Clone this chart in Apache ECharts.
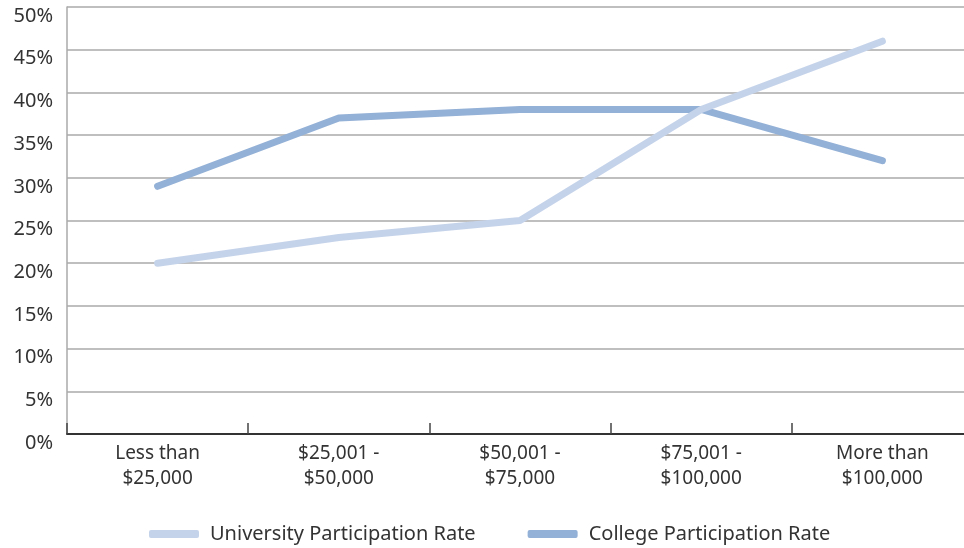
<!DOCTYPE html>
<html>
<head>
<meta charset="utf-8">
<script src="https://cdn.jsdelivr.net/npm/echarts@6/dist/echarts.min.js"></script>
<style>
  html, body { margin: 0; padding: 0; background: #fff; overflow: hidden; }
  /* plot area runs slightly past the right edge of the page */
  #chart { width: 974px; height: 548px; }
</style>
</head>
<body>
<div id="chart"></div>
<script>
// Participation rate by family income bracket
const categories = ['Less than\n$25,000', '$25,001 -\n$50,000', '$50,001 -\n$75,000', '$75,001 -\n$100,000', 'More than\n$100,000'];
const universityRate = [20, 23, 25, 38, 46];
const collegeRate = [29, 37, 38, 38, 32];
const yTicks = [0, 5, 10, 15, 20, 25, 30, 35, 40, 45, 50];

const FONT = '"Noto Sans", sans-serif';
const chart = echarts.init(document.getElementById('chart'));

chart.setOption({
  animation: false,
  backgroundColor: '#fff',
  grid: { left: 67, top: 7, right: 1, bottom: 114, containLabel: false },
  legend: {
    top: 519,
    left: 144,
    itemWidth: 50,
    itemHeight: 8,
    itemGap: 52,
    icon: 'roundRect',
    textStyle: { fontFamily: FONT, fontSize: 20, color: '#333', padding: [0, 0, 0, 6] },
    data: ['University Participation Rate', 'College Participation Rate']
  },
  xAxis: {
    type: 'category',
    data: categories,
    boundaryGap: true,
    axisLine: { lineStyle: { color: '#333', width: 2 } },
    axisTick: { show: true, inside: true, length: 11, lineStyle: { color: '#444', width: 1.5 } },
    axisLabel: { fontFamily: FONT, fontSize: 19, color: '#333', lineHeight: 25, margin: 7 },
    splitLine: { show: false }
  },
  yAxis: {
    type: 'value',
    min: yTicks[0],
    max: yTicks[yTicks.length - 1],
    interval: 5,
    axisLine: { show: true, lineStyle: { color: '#aaa', width: 1.5 } },
    axisTick: { show: false },
    axisLabel: {
      fontFamily: FONT, fontSize: 20, color: '#333', margin: 14,
      verticalAlign: 'top', lineHeight: 18,
      formatter: v => v + '%'
    },
    splitLine: { lineStyle: { color: '#aaa', width: 1.5 } }
  },
  series: [
    {
      name: 'University Participation Rate',
      type: 'line',
      data: universityRate,
      symbol: 'none',
      color: '#c5d3ea',
      lineStyle: { width: 7, cap: 'round', join: 'round', color: '#c5d3ea' },
      z: 3
    },
    {
      name: 'College Participation Rate',
      type: 'line',
      data: collegeRate,
      symbol: 'none',
      color: '#93b0d6',
      lineStyle: { width: 7, cap: 'round', join: 'round', color: '#93b0d6' },
      z: 2
    }
  ]
});
</script>
</body>
</html>
